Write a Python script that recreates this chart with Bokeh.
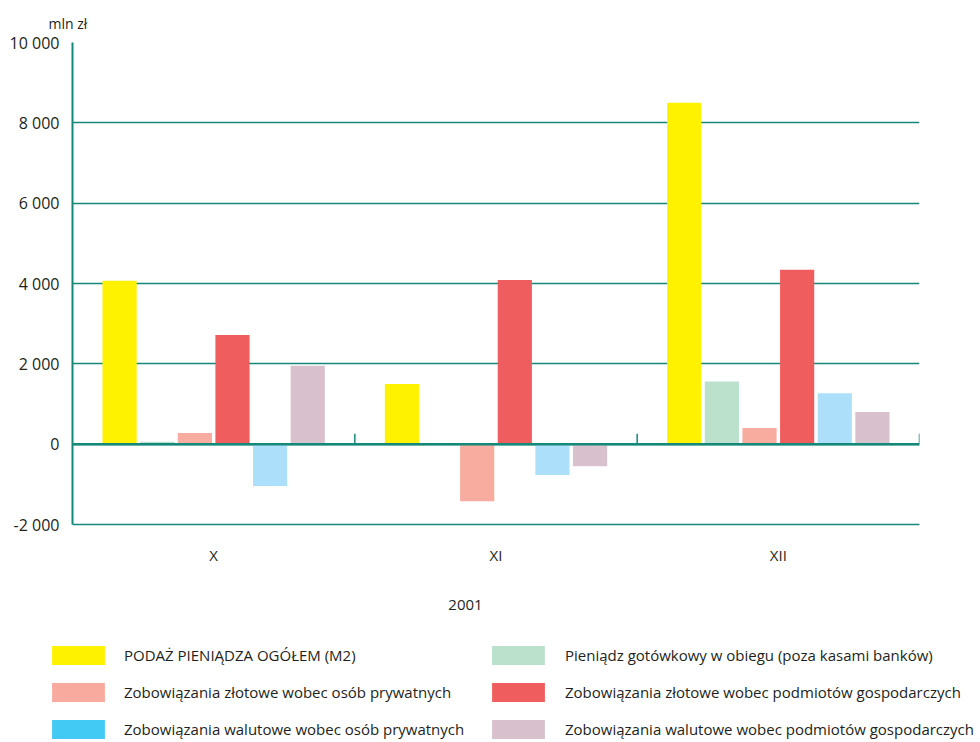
from bokeh.plotting import figure
from bokeh.layouts import column
from bokeh.models import (FactorRange, Range1d, FixedTicker, Span, Label,
                          Legend, LegendItem, ColumnDataSource)
from bokeh.transform import dodge
from bokeh.embed import file_html
from bokeh.resources import INLINE

# ---------------- data ----------------
months = ["X", "XI", "XII"]
year_label = "2001"
unit_label = "mln zł"

series_names = [
    "PODAŻ PIENIĄDZA OGÓŁEM (M2)",
    "Pieniądz gotówkowy w obiegu (poza kasami banków)",
    "Zobowiązania złotowe wobec osób prywatnych",
    "Zobowiązania złotowe wobec podmiotów gospodarczych",
    "Zobowiązania walutowe wobec osób prywatnych",
    "Zobowiązania walutowe wobec podmiotów gospodarczych",
]
m2 = [4070, 1500, 8500]
cash = [60, 30, 1560]
zl_private = [280, -1420, 400]
zl_business = [2720, 4090, 4340]
fx_private = [-1040, -770, 1270]
fx_business = [1950, -550, 800]
series_values = [m2, cash, zl_private, zl_business, fx_private, fx_business]

y_ticks = [-2000, 0, 2000, 4000, 6000, 8000, 10000]
y_tick_labels = ["-2 000", "0", "2 000", "4 000", "6 000", "8 000", "10 000"]

bar_colors = ["#FFF200", "#BBE1CC", "#F8AB9F", "#F05D5E", "#ACE0FA", "#D8C1CC"]
legend_colors = ["#FFF200", "#BBE1CC", "#F8AA9E", "#F05D5E", "#42C9F4", "#D8C0CC"]

# ---------------- styling ----------------
TEAL = "#14897a"
TEXT = "#231f20"
FONT = "Open Sans"

p = figure(width=980, height=585,
           x_range=FactorRange(*months, range_padding=0),
           y_range=Range1d(-2000, 10000),
           output_backend="svg", toolbar_location=None,
           min_border_left=72, min_border_right=61,
           min_border_top=42, min_border_bottom=61)
p.frame_align = False
p.outline_line_color = None
p.background_fill_color = "white"
p.border_fill_color = "white"

# unit label as title
p.title.text = unit_label
p.title.align = "left"
p.title.offset = -24
p.title.standoff = 20
p.title.text_font = FONT
p.title.text_font_size = "14px"
p.title.text_font_style = "normal"
p.title.text_color = TEXT

src = ColumnDataSource(dict(month=months, **{f"s{i}": v for i, v in enumerate(series_values)}))

step = 0.1333
bar_w = 0.121
for i in range(6):
    off = (i - 2.5) * step
    p.vbar(x=dodge("month", off, range=p.x_range), top=f"s{i}", bottom=0,
           width=bar_w, source=src, fill_color=bar_colors[i], line_color=None)

# zero line
p.add_layout(Span(location=0, dimension="width", line_color=TEAL, line_width=2.5))

# category separator ticks
p.segment(x0=dodge("month", 0.5, range=p.x_range), y0=0,
          x1=dodge("month", 0.5, range=p.x_range), y1=260,
          source=src, line_color=TEAL, line_width=1.5)

# grid
p.xgrid.grid_line_color = None
p.ygrid.grid_line_color = TEAL
p.ygrid.grid_line_width = 1.3
p.ygrid.ticker = FixedTicker(ticks=y_ticks)

# y axis
p.yaxis.ticker = FixedTicker(ticks=y_ticks)
p.yaxis.major_label_overrides = {t: l for t, l in zip(y_ticks, y_tick_labels)}
p.yaxis.axis_line_color = TEAL
p.yaxis.axis_line_width = 2
p.yaxis.major_tick_line_color = None
p.yaxis.major_tick_out = 0
p.yaxis.major_tick_in = 0
p.yaxis.minor_tick_line_color = None
p.yaxis.major_label_standoff = 13
p.yaxis.major_label_text_font = FONT
p.yaxis.major_label_text_font_size = "16px"
p.yaxis.major_label_text_color = TEXT

# x axis
p.xaxis.axis_line_color = TEAL
p.xaxis.axis_line_width = 1.5
p.xaxis.major_tick_line_color = None
p.xaxis.major_tick_out = 0
p.xaxis.major_tick_in = 0
p.xaxis.minor_tick_line_color = None
p.xaxis.major_label_standoff = 20
p.xaxis.major_label_text_font = FONT
p.xaxis.major_label_text_font_size = "15px"
p.xaxis.major_label_text_color = TEXT

# ---------------- legend figure ----------------
LW, LH = 980, 157
lf = figure(width=LW, height=LH, x_range=Range1d(0, LW), y_range=Range1d(0, LH),
            output_backend="svg", toolbar_location=None,
            x_axis_location=None, y_axis_location=None, min_border=0)
lf.frame_align = False
lf.outline_line_color = None
lf.xgrid.visible = False
lf.ygrid.visible = False
lf.add_layout(Label(x=465, y=LH - 19, text=year_label, text_align="center",
                    text_baseline="middle", text_font=FONT, text_font_size="15px",
                    text_color=TEXT))

# zero-size renderers that only carry the legend swatch colours
dummies = [lf.vbar(x=[0], top=[0], bottom=[0], width=0,
                   fill_color=legend_colors[i], line_color=None)
           for i in range(6)]

def make_legend(idx, loc, standoff):
    return Legend(items=[LegendItem(label=series_names[i], renderers=[dummies[i]]) for i in idx],
                  location=loc, orientation="vertical",
                  glyph_width=66, glyph_height=24, spacing=13, label_standoff=standoff,
                  padding=0, margin=0, border_line_color=None, background_fill_alpha=0,
                  label_text_font=FONT, label_text_font_size="15px", label_text_color=TEXT)

lf.add_layout(make_legend([0, 2, 4], (45, 1), 13))
lf.add_layout(make_legend([1, 3, 5], (485, 1), 14))

layout = column(p, lf, spacing=0)
open("out.html", "w").write(file_html(layout, INLINE))
